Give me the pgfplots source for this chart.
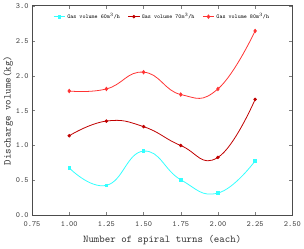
\documentclass[border=0pt]{standalone}
\usepackage{pgfplots}
\pgfplotsset{compat=1.18}
\usepackage{fontspec}
\setmainfont{Liberation Serif}
\definecolor{cy}{RGB}{51,255,255}
\definecolor{dr}{RGB}{192,0,0}
\definecolor{rr}{RGB}{255,51,51}
\begin{document}
\begin{tikzpicture}
\begin{axis}[
  width=262bp, height=211bp, scale only axis,
  xmin=0.75, xmax=2.5, ymin=0, ymax=3,
  xtick={0.75,1,...,2.5}, ytick={0,0.5,...,3},
  xticklabel style={yshift=-2.5bp,/pgf/number format/.cd,fixed,fixed zerofill,precision=2},
  yticklabel style={/pgf/number format/.cd,fixed,fixed zerofill,precision=1},
  /pgf/number format/assume math mode=true,
  tick align=inside, major tick length=3bp,
  tick label style={font=\ttfamily\fontsize{8}{9}\selectfont, color=black!75},
  label style={font=\ttfamily\fontsize{10.5}{11}\selectfont, color=black!80},
  xlabel={Number of spiral turns (each)},
  ylabel={Discharge volume(kg)},
  xlabel style={at={(axis description cs:0.5,-0.12)}, anchor=center},
  ylabel style={at={(axis description cs:-0.092,0.5)}, anchor=center},
  axis line style={black!70, line width=0.8pt},
  legend style={draw=none, fill=none, at={(0.5,0.985)}, anchor=north,
    font=\ttfamily\fontsize{5.8}{6}\selectfont, legend columns=3,
    /tikz/every even column/.append style={column sep=6pt}},
  legend image code/.code={\draw[#1] (0cm,0cm) -- (0.4cm,0cm); \draw[#1,only marks] plot coordinates {(0.2cm,0cm)};},
]
\addplot[cy, line width=0.8pt, smooth, tension=0.8, mark=square*, mark size=1.3pt, mark options={fill=cy}] coordinates {
(1.00,0.68) (1.25,0.43) (1.50,0.92) (1.75,0.51) (2.00,0.32) (2.25,0.78)};
\addlegendentry{Gas volume 60m$^3$/h}
\addplot[dr, line width=0.8pt, smooth, tension=0.8, mark=*, mark size=1.3pt, mark options={fill=dr}] coordinates {
(1.00,1.14) (1.25,1.35) (1.50,1.27) (1.75,1.00) (2.00,0.83) (2.25,1.66)};
\addlegendentry{Gas volume 70m$^3$/h}
\addplot[rr, line width=0.8pt, smooth, tension=0.8, mark=diamond*, mark size=1.7pt, mark options={fill=rr}] coordinates {
(1.00,1.78) (1.25,1.81) (1.50,2.05) (1.75,1.73) (2.00,1.81) (2.25,2.64)};
\addlegendentry{Gas volume 80m$^3$/h}
\end{axis}
\path (current axis.south west) ++(-32bp,-30bp) rectangle ++(304bp,246bp);
\end{tikzpicture}
\end{document}
